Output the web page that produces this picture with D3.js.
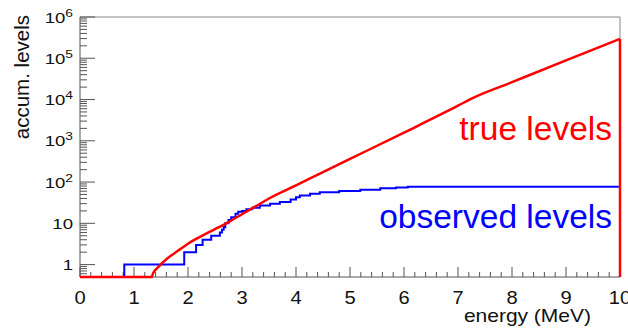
<!DOCTYPE html>
<html>
<head>
<meta charset="utf-8">
<script src="https://cdn.jsdelivr.net/npm/d3@7"></script>
<style>
  body { margin: 0; background: #fff; }
  text { font-family: "Liberation Sans", Arial, Helvetica, sans-serif; }
</style>
</head>
<body>
<div id="chart"></div>
<script>
// true (model) level density: accumulated number of levels vs energy
const trueEnergy = [0, 1.33, 1.35, 1.38, 1.42, 1.46, 1.5, 1.6, 1.7, 1.8, 1.9, 2.0, 2.25, 2.5, 2.75,
  3.0, 3.25, 3.5, 4.0, 4.5, 5.0, 6.0, 7.0, 7.25, 8.0, 9.0, 10.0];
const trueLevels = [0.5, 0.5, 0.6, 0.7, 0.8, 0.9, 1.02, 1.35, 1.7, 2.1, 2.6, 3.2, 4.9, 7.2, 10.7,
  16.6, 25.7, 40, 83, 174, 363, 1580, 7080, 10500, 26300, 89100, 295000];

// observed levels: staircase, count after each energy
const obsEnergy = [0, 0.82, 1.93, 2.15, 2.27, 2.43, 2.59, 2.63, 2.66, 2.69, 2.75, 2.80, 2.88, 2.93,
  3.0, 3.08, 3.19, 3.33, 3.52, 3.7, 3.9, 4.0, 4.07, 4.26, 4.44, 4.8, 5.19, 5.56, 5.85, 6.07, 10.0];
const obsLevels = [0, 1, 2, 3, 4, 5, 6, 7, 8, 10, 12, 14, 17, 19,
  20, 22, 24, 27, 30, 33, 38, 43, 47, 52, 57, 61, 65, 71, 74, 77, 77];

const xTickLabels = ["0", "1", "2", "3", "4", "5", "6", "7", "8", "9", "10"];
const yDecades = [1, 10, 100, 1e3, 1e4, 1e5, 1e6];
const yLabelBase = ["1", "10", "10", "10", "10", "10", "10"];
const yLabelExp = ["", "", "2", "3", "4", "5", "6"];

const width = 628, height = 328;
const margin = { top: 17, right: 8, bottom: 51, left: 80 };
const stretch = 1.2; // text in the picture is drawn a bit wide

const svg = d3.select("#chart").append("svg")
  .attr("width", width)
  .attr("height", height);

const x = d3.scaleLinear()
  .domain([0, 10])
  .range([margin.left, width - margin.right]);

const y = d3.scaleLog()
  .domain([0.5, 1e6])
  .range([height - margin.bottom, margin.top])
  .clamp(true);

const axisColor = "#555";

// frame (top and right)
svg.append("path")
  .attr("d", `M${x(0)},${y(1e6)}H${x(10)}V${y(0.5)}`)
  .attr("fill", "none")
  .attr("stroke", "#888")
  .attr("stroke-width", 1);

// y axis ticks (inside, to the right)
const yMinor = [];
[0.1, 1, 10, 100, 1e3, 1e4, 1e5].forEach(d => {
  for (let k = 2; k <= 9; k++) {
    const v = k * d;
    if (v > 0.5 && v < 1e6) yMinor.push(v);
  }
});

const yAxis = svg.append("g").attr("class", "y-axis");
yAxis.selectAll("line.minor")
  .data(yMinor)
  .enter().append("line")
  .attr("class", "minor")
  .attr("x1", x(0)).attr("x2", x(0) + 7)
  .attr("y1", d => y(d)).attr("y2", d => y(d))
  .attr("stroke", axisColor);
yAxis.selectAll("line.major")
  .data(yDecades)
  .enter().append("line")
  .attr("class", "major")
  .attr("x1", x(0)).attr("x2", x(0) + 15)
  .attr("y1", d => y(d)).attr("y2", d => y(d))
  .attr("stroke", axisColor);

const yLabels = yAxis.selectAll("text")
  .data(yDecades)
  .enter().append("text")
  .attr("transform", d => `translate(${x(0) - 7},${y(d) + 5.5}) scale(${stretch},1)`)
  .attr("text-anchor", "end")
  .attr("font-size", 15.5)
  .attr("fill", "#111");
yLabels.append("tspan").text((d, i) => yLabelBase[i]);
yLabels.append("tspan")
  .attr("font-size", 11.5)
  .attr("dy", -6)
  .text((d, i) => yLabelExp[i]);

yAxis.append("line")
  .attr("x1", x(0)).attr("x2", x(0))
  .attr("y1", y(0.5)).attr("y2", y(1e6))
  .attr("stroke", axisColor);

// x axis ticks (inside, upward)
const xAxis = svg.append("g").attr("class", "x-axis");
xAxis.selectAll("line")
  .data(x.ticks(50))
  .enter().append("line")
  .attr("x1", d => x(d)).attr("x2", d => x(d))
  .attr("y1", y(0.5))
  .attr("y2", d => y(0.5) - (Math.abs(d - Math.round(d)) < 1e-6 ? 10 : 5))
  .attr("stroke", axisColor);
xAxis.append("line")
  .attr("x1", x(0)).attr("x2", x(10))
  .attr("y1", y(0.5)).attr("y2", y(0.5))
  .attr("stroke", axisColor);
xAxis.selectAll("text")
  .data(xTickLabels)
  .enter().append("text")
  .attr("transform", d => `translate(${x(+d)},${y(0.5) + 27}) scale(1.15,1)`)
  .attr("text-anchor", "middle")
  .attr("font-size", 17.5)
  .attr("fill", "#111")
  .text(d => d);

// axis titles
svg.append("text")
  .attr("transform", `translate(${x(10) - 29},${y(0.5) + 45}) scale(${stretch},1)`)
  .attr("text-anchor", "end")
  .attr("font-size", 17.5)
  .attr("fill", "#111")
  .text("energy (MeV)");

svg.append("text")
  .attr("transform", `translate(29,${margin.top - 2}) rotate(-90)`)
  .attr("text-anchor", "end")
  .attr("font-size", 20.5)
  .attr("fill", "#111")
  .text("accum. levels");

// observed levels (blue staircase)
const obsData = obsEnergy.map((e, i) => ({ e, n: obsLevels[i] }));
svg.append("path")
  .datum(obsData)
  .attr("fill", "none")
  .attr("stroke", "#0000ff")
  .attr("stroke-width", 2)
  .attr("d", d3.line()
    .curve(d3.curveStepAfter)
    .x(d => x(d.e))
    .y(d => y(d.n > 0 ? d.n : 0.5)));

// true levels (red curve, dropping to the floor at the upper edge)
const trueData = trueEnergy.map((e, i) => ({ e, n: trueLevels[i] }));
const trueLine = d3.line()
  .curve(d3.curveMonotoneX)
  .x(d => x(d.e))
  .y(d => y(d.n));
svg.append("path")
  .datum(trueData)
  .attr("fill", "none")
  .attr("stroke", "#ff0000")
  .attr("stroke-width", 2.5)
  .attr("d", trueLine);
const last = trueData[trueData.length - 1];
svg.append("line")
  .attr("x1", x(last.e)).attr("x2", x(last.e))
  .attr("y1", y(last.n)).attr("y2", y(0.5))
  .attr("stroke", "#ff0000")
  .attr("stroke-width", 2.5);

// annotations
svg.append("text")
  .attr("x", 612).attr("y", 140)
  .attr("text-anchor", "end")
  .attr("font-family", "'Open Sans', 'Noto Sans', sans-serif")
  .attr("font-size", 33.5)
  .attr("fill", "#ff0000")
  .text("true levels");

svg.append("text")
  .attr("x", 612).attr("y", 228)
  .attr("text-anchor", "end")
  .attr("font-family", "'Open Sans', 'Noto Sans', sans-serif")
  .attr("font-size", 33.5)
  .attr("fill", "#0000ff")
  .text("observed levels");
</script>
</body>
</html>
